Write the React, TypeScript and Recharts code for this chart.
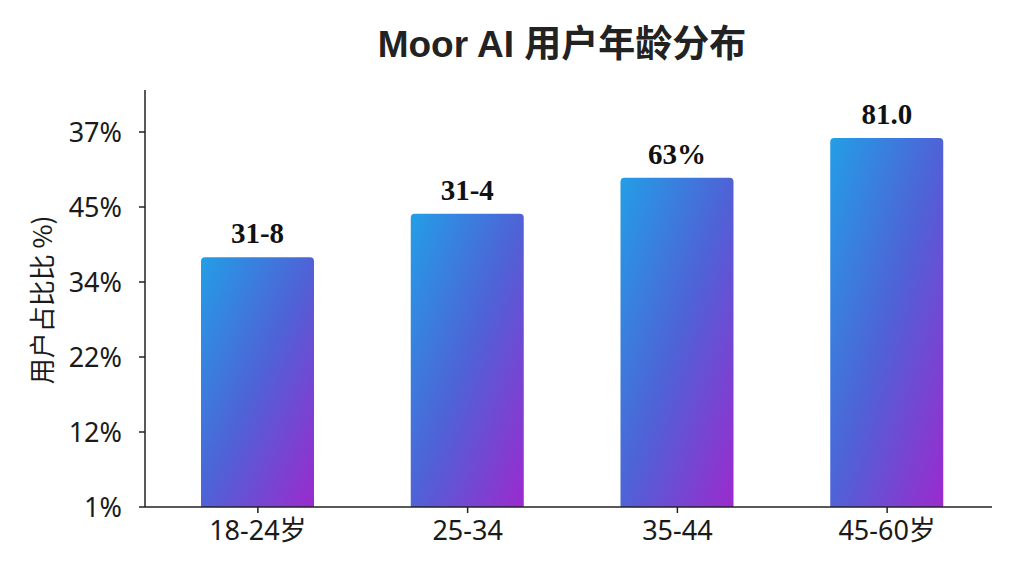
import { BarChart, Bar, XAxis, YAxis, LabelList } from "recharts";

const categories = ["18-24岁", "25-34", "35-44", "45-60岁"];
const shares = [33.3, 39.1, 43.9, 49.2];
const barLabels = ["31-8", "31-4", "63%", "81.0"];
const yTicks = [0, 10, 20, 30, 40, 50];
const yTickLabels = ["1%", "12%", "22%", "34%", "45%", "37%"];

const data = categories.map((age, i) => ({ age, share: shares[i], label: barLabels[i] }));

const sans = "'Noto Sans', 'Noto Sans CJK SC', sans-serif";

const YTitle = () => (
  <text
    x={40}
    y={300}
    transform="rotate(-90 40 300)"
    textAnchor="middle"
    dominantBaseline="central"
    fontFamily="'Noto Sans CJK SC', sans-serif"
    fontSize={26}
    fill="#1a1a1a"
  >
    用户占比比 %)
  </text>
);

export default function App() {
  return (
    <div style={{ position: "absolute", left: 0, top: 0, width: 1024, height: 576, background: "#fff" }}>
      <div
        style={{
          position: "absolute",
          top: 22,
          left: 0,
          width: 1124,
          textAlign: "center",
          fontFamily: "'Liberation Sans', 'Noto Sans CJK SC', sans-serif",
          fontWeight: 700,
          fontSize: 37,
          color: "#222",
          lineHeight: "46px",
        }}
      >
        Moor AI 用户年龄分布
      </div>
      <BarChart width={1024} height={576} data={data} margin={{ top: 90, right: 32, left: 0, bottom: 0 }}>
        <defs>
          <linearGradient id="barFill" x1="0" y1="0" x2="1" y2="1">
            <stop offset="0%" stopColor="#239ee6" />
            <stop offset="50%" stopColor="#4f62d6" />
            <stop offset="100%" stopColor="#9b2ace" />
          </linearGradient>
        </defs>
        <XAxis
          dataKey="age"
          height={69}
          padding={{ left: 8, right: 0 }}
          stroke="#222"
          strokeWidth={1.5}
          tickSize={6}
          tickMargin={8}
          tick={{ fill: "#1a1a1a", fontSize: 27, fontFamily: sans }}
        />
        <YAxis
          type="number"
          width={145}
          domain={[0, 55.6]}
          ticks={yTicks}
          tickFormatter={(v: number) => yTickLabels[yTicks.indexOf(v)]}
          stroke="#222"
          strokeWidth={1.5}
          tickSize={6}
          tickMargin={17}
          tick={{ fill: "#1a1a1a", fontSize: 27, fontFamily: sans }}
          label={{ content: () => <YTitle /> }}
        />
        <Bar dataKey="share" fill="url(#barFill)" barSize={113} radius={[4, 4, 0, 0]} isAnimationActive={false}>
          <LabelList
            dataKey="label"
            position="top"
            offset={14}
            fill="#111"
            fontSize={29}
            fontWeight={700}
            fontFamily="'Liberation Serif', serif"
          />
        </Bar>
      </BarChart>
    </div>
  );
}
